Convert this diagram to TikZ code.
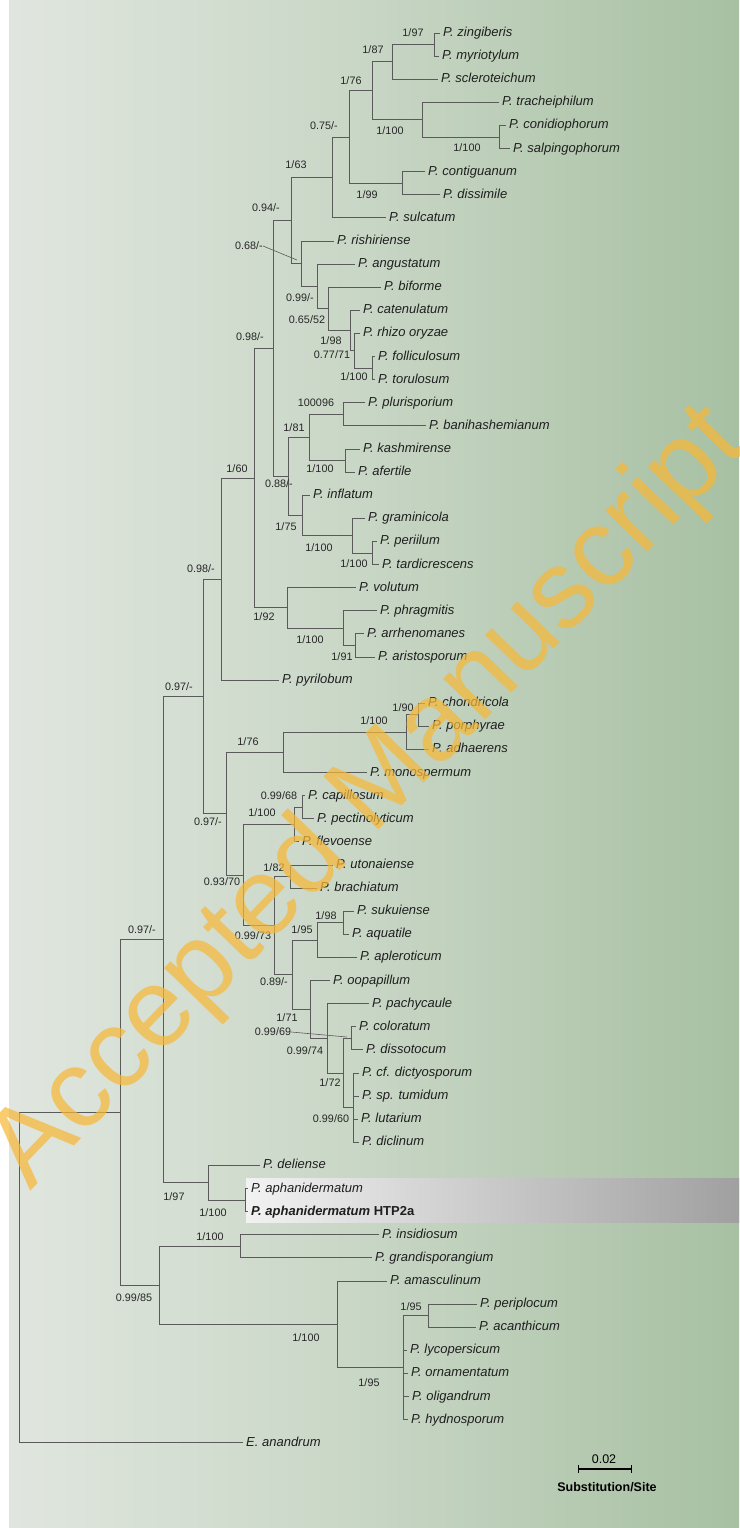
\documentclass[tikz,border=0pt]{standalone}
\usepackage{fontspec}
\setmainfont{Liberation Sans}
\usetikzlibrary{calc}
\definecolor{bgL}{HTML}{E0E6DF}
\definecolor{bgM}{HTML}{C8D6C5}
\definecolor{bgR}{HTML}{A7C0A2}
\definecolor{brc}{HTML}{5A5A5A}
\definecolor{wm}{HTML}{F7B838}
\definecolor{hlL}{HTML}{F2F2F2}
\definecolor{hlR}{HTML}{A0A0A0}
\begin{document}
\begin{tikzpicture}[x=1pt,y=-1pt,
  tx/.style={anchor=west, inner xsep=3pt, inner ysep=0pt, font=\fontsize{13}{15}\selectfont\itshape, text height=9.5pt, text depth=2.5pt, text=black!88},
  bs/.style={inner sep=0pt, font=\fontsize{10.8}{12}\selectfont, text height=7.7pt, text depth=0pt, text=black!85},
  br/.style={draw=brc, line width=0.8pt},
  declare function={ty(\k)=33+(\k-1)*23.11;}
]
\useasboundingbox (0,0) rectangle (739,1528);
% background
\fill[left color=bgL, right color=bgM] (9,0) rectangle (371,1527);
\fill[left color=bgM, right color=bgR] (370,0) rectangle (739,1527);
% highlight box
\path[left color=hlL, right color=hlR] (246,1178) rectangle (739,1222);

% node indices
\pgfmathsetmacro\ndA{1.5}
\pgfmathsetmacro\ndB{(\ndA+3)/2}
\pgfmathsetmacro\ndD{5.5}
\pgfmathsetmacro\ndC{(4+\ndD)/2}
\pgfmathsetmacro\ndE{(\ndB+\ndC)/2}
\pgfmathsetmacro\ndG{7.5}
\pgfmathsetmacro\ndF{(\ndE+\ndG)/2}
\pgfmathsetmacro\ndH{(\ndF+9)/2}
\pgfmathsetmacro\ndO{15.5}
\pgfmathsetmacro\ndN{(14+\ndO)/2}
\pgfmathsetmacro\ndM{(13+\ndN)/2}
\pgfmathsetmacro\ndL{(12+\ndM)/2}
\pgfmathsetmacro\ndK{(11+\ndL)/2}
\pgfmathsetmacro\ndJ{(10+\ndK)/2}
\pgfmathsetmacro\ndI{(\ndH+\ndJ)/2}
\pgfmathsetmacro\ndS{17.5}
\pgfmathsetmacro\ndT{19.5}
\pgfmathsetmacro\ndR{(\ndS+\ndT)/2}
\pgfmathsetmacro\ndW{23.5}
\pgfmathsetmacro\ndV{(22+\ndW)/2}
\pgfmathsetmacro\ndU{(21+\ndV)/2}
\pgfmathsetmacro\ndQ{(\ndR+\ndU)/2}
\pgfmathsetmacro\ndP{(\ndI+\ndQ)/2}
\pgfmathsetmacro\ndAA{27.5}
\pgfmathsetmacro\ndZ{(26+\ndAA)/2}
\pgfmathsetmacro\ndY{(25+\ndZ)/2}
\pgfmathsetmacro\ndX{(\ndP+\ndY)/2}
\pgfmathsetmacro\ndAB{(\ndX+29)/2}
\pgfmathsetmacro\ndAG{30.5}
\pgfmathsetmacro\ndAF{(\ndAG+32)/2}
\pgfmathsetmacro\ndAE{(\ndAF+33)/2}
\pgfmathsetmacro\ndAJ{34.5}
\pgfmathsetmacro\ndAI{(\ndAJ+36)/2}
\pgfmathsetmacro\ndAL{37.5}
\pgfmathsetmacro\ndAO{39.5}
\pgfmathsetmacro\ndAN{(\ndAO+41)/2}
\pgfmathsetmacro\ndAS{44.5}
\pgfmathsetmacro\ndAT{47.5}
\pgfmathsetmacro\ndAR{(\ndAS+\ndAT)/2}
\pgfmathsetmacro\ndAQ{(43+\ndAR)/2}
\pgfmathsetmacro\ndAP{(42+\ndAQ)/2}
\pgfmathsetmacro\ndAM{(\ndAN+\ndAP)/2}
\pgfmathsetmacro\ndAK{(\ndAL+\ndAM)/2}
\pgfmathsetmacro\ndAH{(\ndAI+\ndAK)/2}
\pgfmathsetmacro\ndAD{(\ndAE+\ndAH)/2}
\pgfmathsetmacro\ndAC{(\ndAB+\ndAD)/2}
\pgfmathsetmacro\ndAV{51.5}
\pgfmathsetmacro\ndAU{(50+\ndAV)/2}
\pgfmathsetmacro\ndAW{(\ndAC+\ndAU)/2}
\pgfmathsetmacro\ndAZ{53.5}
\pgfmathsetmacro\ndBC{56.5}
\pgfmathsetmacro\ndBB{(\ndBC+61)/2}
\pgfmathsetmacro\ndBA{(55+\ndBB)/2}
\pgfmathsetmacro\ndAY{(\ndAZ+\ndBA)/2}
\pgfmathsetmacro\ndAX{(\ndAW+\ndAY)/2}
\pgfmathsetmacro\ndRT{(\ndAX+62)/2}

% internal nodes
\coordinate (A) at (434,{ty(\ndA)});
\coordinate (B) at (392,{ty(\ndB)});
\coordinate (C) at (422,{ty(\ndC)});
\coordinate (D) at (499,{ty(\ndD)});
\coordinate (E) at (372,{ty(\ndE)});
\coordinate (F) at (349,{ty(\ndF)});
\coordinate (G) at (402,{ty(\ndG)});
\coordinate (H) at (332,{ty(\ndH)});
\coordinate (I) at (291,{ty(\ndI)});
\coordinate (J) at (301,{ty(\ndJ)});
\coordinate (K) at (317,{ty(\ndK)});
\coordinate (L) at (328,{ty(\ndL)});
\coordinate (M) at (350,{ty(\ndM)});
\coordinate (N) at (354,{ty(\ndN)});
\coordinate (O) at (372,{ty(\ndO)});
\coordinate (P) at (273,{ty(\ndP)});
\coordinate (Q) at (288,{ty(\ndQ)});
\coordinate (R) at (309,{ty(\ndR)});
\coordinate (S) at (343,{ty(\ndS)});
\coordinate (T) at (345,{ty(\ndT)});
\coordinate (U) at (302,{ty(\ndU)});
\coordinate (V) at (352,{ty(\ndV)});
\coordinate (W) at (372,{ty(\ndW)});
\coordinate (X) at (254,{ty(\ndX)});
\coordinate (Y) at (287,{ty(\ndY)});
\coordinate (Z) at (343,{ty(\ndZ)});
\coordinate (AA) at (355,{ty(\ndAA)});
\coordinate (AB) at (221,{ty(\ndAB)});
\coordinate (AC) at (203,{ty(\ndAC)});
\coordinate (AD) at (226,{ty(\ndAD)});
\coordinate (AE) at (283,{ty(\ndAE)});
\coordinate (AF) at (406,{ty(\ndAF)});
\coordinate (AG) at (418,{ty(\ndAG)});
\coordinate (AH) at (243,{ty(\ndAH)});
\coordinate (AI) at (294,{ty(\ndAI)});
\coordinate (AJ) at (302,{ty(\ndAJ)});
\coordinate (AK) at (274,{ty(\ndAK)});
\coordinate (AL) at (290,{ty(\ndAL)});
\coordinate (AM) at (292,{ty(\ndAM)});
\coordinate (AN) at (317,{ty(\ndAN)});
\coordinate (AO) at (343,{ty(\ndAO)});
\coordinate (AP) at (310,{ty(\ndAP)});
\coordinate (AQ) at (327,{ty(\ndAQ)});
\coordinate (AR) at (343,{ty(\ndAR)});
\coordinate (AS) at (351,{ty(\ndAS)});
\coordinate (AT) at (353,{ty(\ndAT)});
\coordinate (AU) at (208,{ty(\ndAU)});
\coordinate (AV) at (245,{ty(\ndAV)});
\coordinate (AW) at (163,{ty(\ndAW)});
\coordinate (AX) at (120,{ty(\ndAX)});
\coordinate (AY) at (159,{ty(\ndAY)});
\coordinate (AZ) at (240,{ty(\ndAZ)});
\coordinate (BA) at (337,{ty(\ndBA)});
\coordinate (BB) at (403,{ty(\ndBB)});
\coordinate (BC) at (428,{ty(\ndBC)});
\coordinate (RT) at (19,{ty(\ndRT)});

% leaves
\node[tx] (t1) at (440,{ty(1)}) {P. zingiberis};
\node[tx] (t2) at (439,{ty(2)}) {P. myriotylum};
\node[tx] (t3) at (438,{ty(3)}) {P. scleroteichum};
\node[tx] (t4) at (499,{ty(4)}) {P. tracheiphilum};
\node[tx] (t5) at (506,{ty(5)}) {P. conidiophorum};
\node[tx] (t6) at (510,{ty(6)}) {P. salpingophorum};
\node[tx] (t7) at (425,{ty(7)}) {P. contiguanum};
\node[tx] (t8) at (440,{ty(8)}) {P. dissimile};
\node[tx] (t9) at (386,{ty(9)}) {P. sulcatum};
\node[tx] (t10) at (334,{ty(10)}) {P. rishiriense};
\node[tx] (t11) at (355,{ty(11)}) {P. angustatum};
\node[tx] (t12) at (381,{ty(12)}) {P. biforme};
\node[tx] (t13) at (360,{ty(13)}) {P. catenulatum};
\node[tx] (t14) at (360,{ty(14)}) {P. rhizo oryzae};
\node[tx] (t15) at (375,{ty(15)}) {P. folliculosum};
\node[tx] (t16) at (375,{ty(16)}) {P. torulosum};
\node[tx] (t17) at (365,{ty(17)}) {P. plurisporium};
\node[tx] (t18) at (426,{ty(18)}) {P. banihashemianum};
\node[tx] (t19) at (360,{ty(19)}) {P. kashmirense};
\node[tx] (t20) at (355,{ty(20)}) {P. afertile};
\node[tx] (t21) at (310,{ty(21)}) {P. inflatum};
\node[tx] (t22) at (365,{ty(22)}) {P. graminicola};
\node[tx] (t23) at (377,{ty(23)}) {P. periilum};
\node[tx] (t24) at (379,{ty(24)}) {P. tardicrescens};
\node[tx] (t25) at (356,{ty(25)}) {P. volutum};
\node[tx] (t26) at (377,{ty(26)}) {P. phragmitis};
\node[tx] (t27) at (364,{ty(27)}) {P. arrhenomanes};
\node[tx] (t28) at (375,{ty(28)}) {P. aristosporum};
\node[tx] (t29) at (279,{ty(29)}) {P. pyrilobum};
\node[tx] (t30) at (425,{ty(30)}) {P. chondricola};
\node[tx] (t31) at (429,{ty(31)}) {P. porphyrae};
\node[tx] (t32) at (429,{ty(32)}) {P. adhaerens};
\node[tx] (t33) at (367,{ty(33)}) {P. monospermum};
\node[tx] (t34) at (305,{ty(34)}) {P. capillosum};
\node[tx] (t35) at (314,{ty(35)}) {P. pectinolyticum};
\node[tx] (t36) at (299,{ty(36)}) {P. flevoense};
\node[tx] (t37) at (333,{ty(37)}) {P. utonaiense};
\node[tx] (t38) at (317,{ty(38)}) {P. brachiatum};
\node[tx] (t39) at (354,{ty(39)}) {P. sukuiense};
\node[tx] (t40) at (349,{ty(40)}) {P. aquatile};
\node[tx] (t41) at (357,{ty(41)}) {P. apleroticum};
\node[tx] (t42) at (330,{ty(42)}) {P. oopapillum};
\node[tx] (t43) at (369,{ty(43)}) {P. pachycaule};
\node[tx] (t44) at (356,{ty(44)}) {P. coloratum};
\node[tx] (t45) at (363,{ty(45)}) {P. dissotocum};
\node[tx] (t46) at (359,{ty(46)}) {P. cf. dictyosporum};
\node[tx] (t47) at (359,{ty(47)}) {P. sp. tumidum};
\node[tx] (t48) at (358,{ty(48)}) {P. lutarium};
\node[tx] (t49) at (359,{ty(49)}) {P. diclinum};
\node[tx] (t50) at (260,{ty(50)}) {P. deliense};
\node[tx] (t51) at (248,{ty(51)}) {P. aphanidermatum};
\node[tx] (t52) at (248,{ty(52)}) {\bfseries P. aphanidermatum \upshape HTP2a};
\node[tx] (t53) at (379,{ty(53)}) {P. insidiosum};
\node[tx] (t54) at (372,{ty(54)}) {P. grandisporangium};
\node[tx] (t55) at (387,{ty(55)}) {P. amasculinum};
\node[tx] (t56) at (477,{ty(56)}) {P. periplocum};
\node[tx] (t57) at (476,{ty(57)}) {P. acanthicum};
\node[tx] (t58) at (407,{ty(58)}) {P. lycopersicum};
\node[tx] (t59) at (408,{ty(59)}) {P. ornamentatum};
\node[tx] (t60) at (409,{ty(60)}) {P. oligandrum};
\node[tx] (t61) at (408,{ty(61)}) {P. hydnosporum};
\node[tx] (t62) at (243,{ty(62)}) {E. anandrum};

% branches
\foreach \p/\c in {A/t1.west, A/t2.west, B/A, B/t3.west, D/t5.west, D/t6.west,
  C/t4.west, C/D, E/B, E/C, G/t7.west, G/t8.west, F/E, F/G, H/F, H/t9.west,
  O/t15.west, O/t16.west, N/t14.west, N/O, M/t13.west, M/N, L/t12.west, L/M,
  K/t11.west, K/L, J/t10.west, J/K, I/H, I/J, S/t17.west, S/t18.west,
  T/t19.west, T/t20.west, R/S, R/T, W/t23.west, W/t24.west, V/t22.west, V/W,
  U/t21.west, U/V, Q/R, Q/U, P/I, P/Q, AA/t27.west, AA/t28.west, Z/t26.west, Z/AA,
  Y/t25.west, Y/Z, X/P, X/Y, AB/X, AB/t29.west, AG/t30.west, AG/t31.west,
  AF/AG, AF/t32.west, AE/AF, AE/t33.west, AJ/t34.west, AJ/t35.west, AI/AJ, AI/t36.west,
  AL/t37.west, AL/t38.west, AO/t39.west, AO/t40.west, AN/AO, AN/t41.west,
  AS/t44.west, AS/t45.west, AT/t46.west, AT/t47.west, AT/t48.west, AT/t49.west,
  AR/AS, AR/AT, AQ/t43.west, AQ/AR, AP/t42.west, AP/AQ, AM/AN, AM/AP,
  AK/AL, AK/AM, AH/AI, AH/AK, AD/AE, AD/AH, AC/AB, AC/AD,
  AV/t51.west, AV/t52.west, AU/t50.west, AU/AV, AW/AC, AW/AU,
  AZ/t53.west, AZ/t54.west, BC/t56.west, BC/t57.west,
  BB/BC, BB/t58.west, BB/t59.west, BB/t60.west, BB/t61.west,
  BA/t55.west, BA/BB, AY/AZ, AY/BA, AX/AW, AX/AY, RT/AX, RT/t62.west}
  \draw[br] (\p) |- (\c);

% support values
\node[bs] (s1) at (413,33) {1/97};
\node[bs] (s2) at (373,50) {1/87};
\node[bs] (s3) at (351,81) {1/76};
\node[bs] (s4) at (324,126) {0.75/-};
\node[bs] (s5) at (390,131) {1/100};
\node[bs] (s6) at (467,148) {1/100};
\node[bs] (s7) at (296,165) {1/63};
\node[bs] (s8) at (367,195) {1/99};
\node[bs] (s9) at (266,208) {0.94/-};
\node[bs] (s10) at (249,246) {0.68/-};
\node[bs] (s11) at (300,298) {0.99/-};
\node[bs] (s12) at (307,320) {0.65/52};
\node[bs] (s13) at (250,337) {0.98/-};
\node[bs] (s14) at (331,341) {1/98};
\node[bs] (s15) at (332,355) {0.77/71};
\node[bs] (s16) at (354,377) {1/100};
\node[bs] (s17) at (316,403) {100096};
\node[bs] (s18) at (294,428) {1/81};
\node[bs] (s19) at (237,469) {1/60};
\node[bs] (s20) at (320,469) {1/100};
\node[bs] (s21) at (279,484) {0.88/-};
\node[bs] (s22) at (286,527) {1/75};
\node[bs] (s23) at (319,548) {1/100};
\node[bs] (s24) at (354,564) {1/100};
\node[bs] (s25) at (201,569) {0.98/-};
\node[bs] (s26) at (264,617) {1/92};
\node[bs] (s27) at (310,640) {1/100};
\node[bs] (s28) at (342,657) {1/91};
\node[bs] (s29) at (179,687) {0.97/-};
\node[bs] (s30) at (403,708) {1/90};
\node[bs] (s31) at (374,721) {1/100};
\node[bs] (s32) at (248,742) {1/76};
\node[bs] (s33) at (279,796) {0.99/68};
\node[bs] (s34) at (262,813) {1/100};
\node[bs] (s35) at (208,822) {0.97/-};
\node[bs] (s36) at (274,868) {1/82};
\node[bs] (s37) at (222,882) {0.93/70};
\node[bs] (s38) at (326,916) {1/98};
\node[bs] (s39) at (302,930) {1/95};
\node[bs] (s40) at (253,936) {0.99/73};
\node[bs] (s41) at (142,930) {0.97/-};
\node[bs] (s42) at (274,982) {0.89/-};
\node[bs] (s43) at (287,1018) {1/71};
\node[bs] (s44) at (273,1032) {0.99/69};
\node[bs] (s45) at (305,1051) {0.99/74};
\node[bs] (s46) at (330,1083) {1/72};
\node[bs] (s47) at (331,1119) {0.99/60};
\node[bs] (s48) at (174,1197) {1/97};
\node[bs] (s49) at (213,1213) {1/100};
\node[bs] (s50) at (210,1237) {1/100};
\node[bs] (s51) at (134,1298) {0.99/85};
\node[bs] (s52) at (306,1338) {1/100};
\node[bs] (s53) at (411,1307) {1/95};
\node[bs] (s54) at (369,1383) {1/95};

% leaders
\coordinate (J68) at (297,260);
\coordinate (AS69) at (347,1037);
\draw[br, line width=0.6pt] (s10.east) -- (J68);
\draw[br, line width=0.6pt] (s44.east) -- (AS69);

% scale bar
\coordinate (sb1) at (578,1469);
\coordinate (sb2) at (631,1469);
\draw[black, line width=1.1pt] (sb1) -- (sb2);
\draw[black, line width=1pt] ($(sb1)+(0,-4)$) -- ($(sb1)+(0,4)$);
\draw[black, line width=1pt] ($(sb2)+(0,-4)$) -- ($(sb2)+(0,4)$);
\node[inner sep=0pt, font=\fontsize{12.5}{14}\selectfont] (sbl) at (604,1459) {0.02};
\node[inner sep=0pt, font=\fontsize{12.5}{14}\selectfont\bfseries] (sbt) at (607,1487) {Substitution/Site};

% watermark
\node[rotate=46, anchor=base west, text=wm, opacity=0.72, inner sep=0pt,
  font=\fontsize{111}{111}\selectfont] (wmk) at (30,1192) {Accepted Manuscript};
\end{tikzpicture}
\end{document}
